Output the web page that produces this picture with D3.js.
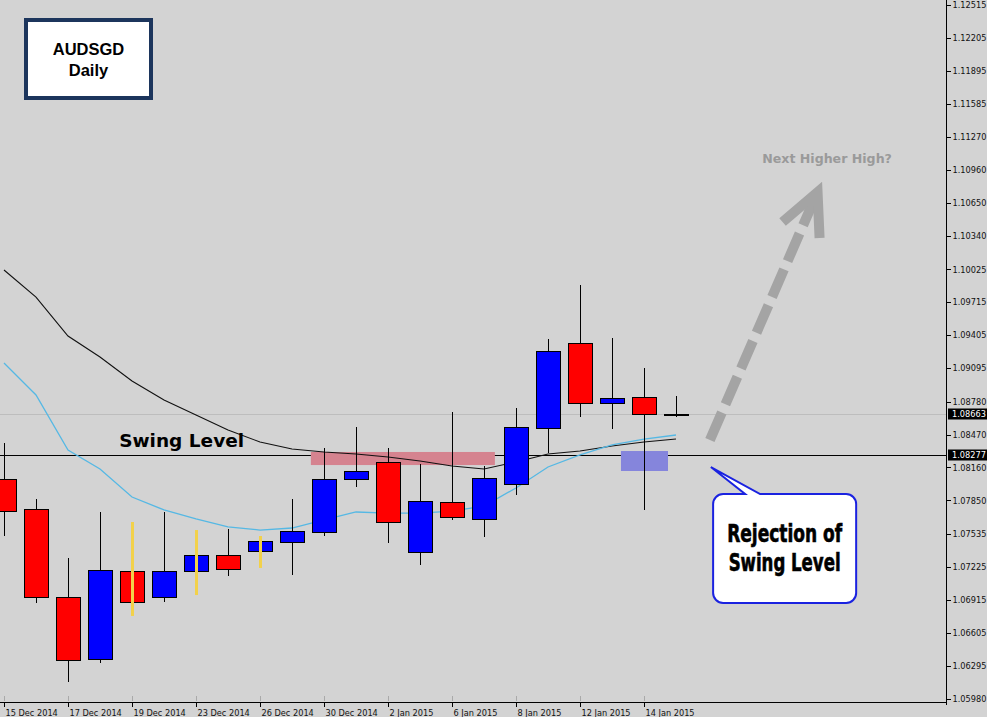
<!DOCTYPE html>
<html><head><meta charset="utf-8">
<script src="https://cdn.jsdelivr.net/npm/d3@7/dist/d3.min.js"></script>
<style>html,body{margin:0;padding:0;background:#d3d3d3;overflow:hidden}svg{display:block}</style>
</head><body><svg id="c" width="987" height="717"></svg>
<script>
// ---------------- DATA ----------------
const dates = ["15 Dec 2014","16 Dec 2014","17 Dec 2014","18 Dec 2014","19 Dec 2014","22 Dec 2014","23 Dec 2014","24 Dec 2014","26 Dec 2014","29 Dec 2014","30 Dec 2014","31 Dec 2014","2 Jan 2015","5 Jan 2015","6 Jan 2015","7 Jan 2015","8 Jan 2015","9 Jan 2015","12 Jan 2015","13 Jan 2015","14 Jan 2015","15 Jan 2015"];
const openP  = [1.08052,1.07769,1.06940,1.06357,1.07185,1.06940,1.07185,1.07336,1.07374,1.07458,1.07553,1.08052,1.08212,1.07364,1.07835,1.07675,1.08005,1.08532,1.09332,1.08767,1.08824,1.08663];
const highP  = [1.08391,1.07863,1.07308,1.07741,1.07647,1.07741,1.07571,1.07581,1.07515,1.07863,1.08343,1.08541,1.08343,1.08193,1.08682,1.08174,1.08720,1.09370,1.09878,1.09379,1.09097,1.08833];
const lowP   = [1.07515,1.06884,1.06140,1.06319,1.06762,1.06893,1.06959,1.07138,1.07214,1.07148,1.07515,1.07976,1.07449,1.07242,1.07666,1.07505,1.07901,1.08296,1.08635,1.08522,1.07760,1.08635];
const closeP = [1.07750,1.06940,1.06347,1.07195,1.06893,1.07185,1.07336,1.07204,1.07468,1.07562,1.08052,1.08127,1.07647,1.07844,1.07694,1.08061,1.08541,1.09257,1.08767,1.08814,1.08664,1.08663];
const maSlow = [1.10020,1.09765,1.09398,1.09200,1.08974,1.08795,1.08654,1.08513,1.08400,1.08334,1.08306,1.08287,1.08259,1.08221,1.08174,1.08146,1.08212,1.08287,1.08315,1.08362,1.08400,1.08428];
const maFast = [1.09144,1.08843,1.08325,1.08146,1.07882,1.07760,1.07675,1.07600,1.07571,1.07590,1.07666,1.07741,1.07731,1.07731,1.07750,1.07797,1.07967,1.08165,1.08278,1.08372,1.08428,1.08466];
const insideBars = ["19 Dec 2014","23 Dec 2014","26 Dec 2014"];
const xTickLabels = ["15 Dec 2014","17 Dec 2014","19 Dec 2014","23 Dec 2014","26 Dec 2014","30 Dec 2014","2 Jan 2015","6 Jan 2015","8 Jan 2015","12 Jan 2015","14 Jan 2015"];
const yTickValues = [1.12515,1.12205,1.11895,1.11585,1.11270,1.10960,1.10650,1.10340,1.10025,1.09715,1.09405,1.09095,1.08780,1.08470,1.08160,1.07850,1.07535,1.07225,1.06915,1.06605,1.06295,1.05980];
const swingLevel = 1.08277;
const lastPrice = 1.08663;
const markedPrices = [lastPrice, swingLevel];
const title = ["AUDSGD","Daily"];
// zones in data units [startIndex, endIndex, priceTop, priceBottom]
const resistanceZone = [9.59, 15.34, 1.08306, 1.08183];
const rejectionZone = [19.28, 20.75, 1.08315, 1.08127];

// ---------------- SCALES ----------------
const W = 987, H = 717, axisX = 946, axisY = 702;
const svg = d3.select("#c");
svg.append("rect").attr("width",W).attr("height",H).attr("fill","#d3d3d3");

const x = d3.scaleLinear().domain([0, dates.length-1]).range([4, 676]);
const y = d3.scaleLinear().domain([1.05980, 1.12515]).range([699, 5]);
const xi = d => dates.indexOf(d);

const plot = svg.append("g");
plot.append("clipPath").attr("id","clip").append("rect").attr("x",0).attr("y",0).attr("width",axisX).attr("height",axisY);
const g = plot.append("g").attr("clip-path","url(#clip)");

// last price line (light gray)
g.append("line").attr("x1",0).attr("x2",axisX)
  .attr("y1",Math.round(y(lastPrice))+0.5).attr("y2",Math.round(y(lastPrice))+0.5)
  .attr("stroke","#bdbdbd").attr("stroke-width",1);
// swing level line
g.append("line").attr("x1",0).attr("x2",axisX)
  .attr("y1",Math.round(y(swingLevel))+0.5).attr("y2",Math.round(y(swingLevel))+0.5)
  .attr("stroke","#000").attr("stroke-width",1);

// zones
function zone(z, fill){
  g.append("rect").attr("x",x(z[0])).attr("width",x(z[1])-x(z[0]))
   .attr("y",y(z[2])).attr("height",y(z[3])-y(z[2])).attr("fill",fill);
}
zone(resistanceZone, "#d5838f");
zone(rejectionZone, "#8585dc");

// moving averages
const line = d3.line().x((d,i)=>x(i)).y(d=>y(d));
g.append("path").datum(maSlow).attr("d",line).attr("fill","none").attr("stroke","#111").attr("stroke-width",1.1);
g.append("path").datum(maFast).attr("d",line).attr("fill","none").attr("stroke","#55b8e4").attr("stroke-width",1.3);

// candles
const candles = dates.map((d,i)=>({d,i,o:openP[i],h:highP[i],l:lowP[i],c:closeP[i],inside:insideBars.includes(d)}));
const cx = d => Math.round(x(d.i))+0.5;
g.selectAll(".wick").data(candles.filter(d=>!d.inside)).enter().append("line")
  .attr("x1",cx).attr("x2",cx).attr("y1",d=>y(d.h)).attr("y2",d=>y(d.l))
  .attr("stroke","#000").attr("stroke-width",1).attr("shape-rendering","crispEdges");
g.selectAll(".body").data(candles).enter().append("rect")
  .attr("x",d=>Math.round(x(d.i))-11.5).attr("width",24)
  .attr("y",d=>Math.round(y(Math.max(d.o,d.c)))+0.5)
  .attr("height",d=>Math.max(1,Math.round(Math.abs(y(d.o)-y(d.c)))))
  .attr("fill",d=>d.c>d.o?"#0000ff":(d.c<d.o?"#ff0000":"#000"))
  .attr("stroke","#000").attr("stroke-width",1).attr("shape-rendering","crispEdges");
g.selectAll(".iwick").data(candles.filter(d=>d.inside)).enter().append("line")
  .attr("x1",d=>x(d.i)+0.5).attr("x2",d=>x(d.i)+0.5).attr("y1",d=>y(d.h)).attr("y2",d=>y(d.l))
  .attr("stroke","#f2d14a").attr("stroke-width",3);

// ---------------- AXES ----------------
const yAxis = d3.axisRight(y).tickValues(yTickValues).tickFormat(d3.format(".5f")).tickSize(4).tickSizeOuter(0);
const ya = svg.append("g").attr("transform",`translate(${axisX+0.5},0)`).call(yAxis);
ya.select(".domain").remove();
ya.selectAll("line").attr("stroke","#000").attr("shape-rendering","crispEdges");
ya.selectAll("text").attr("x",6).attr("fill","#111").style("font-family","'DejaVu Sans',sans-serif").style("font-size","8.2px");
svg.append("line").attr("x1",axisX+0.5).attr("x2",axisX+0.5).attr("y1",0).attr("y2",axisY+3)
  .attr("stroke","#000").attr("stroke-width",1).attr("shape-rendering","crispEdges");

// highlighted price labels
const hl = svg.append("g");
markedPrices.forEach(p=>{
  const yy = Math.round(y(p));
  hl.append("rect").attr("x",axisX+2).attr("y",yy-5.5).attr("width",W-axisX-2).attr("height",11).attr("fill","#000");
  hl.append("text").attr("x",axisX+6).attr("y",yy).attr("dy","0.35em").attr("fill","#fff")
    .style("font-family","'DejaVu Sans',sans-serif").style("font-size","8.2px").text(d3.format(".5f")(p));
});

const xAxis = d3.axisBottom(x).tickValues(xTickLabels.map(xi)).tickFormat(i=>dates[i]).tickSize(4).tickSizeOuter(0);
const xa = svg.append("g").attr("transform",`translate(0,${axisY+0.5})`).call(xAxis);
xa.select(".domain").remove();
xa.selectAll(".tick").attr("transform",d=>`translate(${Math.round(x(d))+0.5},0)`);
xa.selectAll("line").attr("stroke","#000").attr("shape-rendering","crispEdges");
xa.selectAll("text").attr("y",8).attr("x",1).attr("dy","0.71em").attr("text-anchor","start").attr("fill","#111")
  .style("font-family","'DejaVu Sans',sans-serif").style("font-size","8.2px");
svg.append("line").attr("x1",0).attr("x2",axisX+1).attr("y1",axisY+0.5).attr("y2",axisY+0.5)
  .attr("stroke","#000").attr("stroke-width",1).attr("shape-rendering","crispEdges");
// faint grid ticks above axis
svg.selectAll(".gt").data(xTickLabels.map(xi)).enter().append("line")
  .attr("x1",d=>Math.round(x(d))+0.5).attr("x2",d=>Math.round(x(d))+0.5).attr("y1",696).attr("y2",701)
  .attr("stroke","#a9a9a9").attr("shape-rendering","crispEdges");

// ---------------- ANNOTATIONS ----------------
// title box
const tb = svg.append("g");
tb.append("rect").attr("x",26).attr("y",20).attr("width",125).attr("height",78)
  .attr("fill","#fff").attr("stroke","#1c355c").attr("stroke-width",4);
tb.selectAll("text").data(title).enter().append("text")
  .attr("x",88.5).attr("y",(d,i)=>55+i*21).attr("text-anchor","middle")
  .style("font-family","'Liberation Sans',Arial,sans-serif").style("font-weight","bold").style("font-size","16.5px")
  .attr("fill","#000").text(d=>d);

// Swing Level text
svg.append("text").attr("x",x(3.6)).attr("y",y(swingLevel)-8)
  .style("font-family","'DejaVu Sans',sans-serif").style("font-weight","bold").style("font-size","18.5px")
  .attr("fill","#000").text("Swing Level");

// dashed arrow
const aS = [x(22.06), y(1.08419)], aT = [x(25.56), y(1.10848)];
const len = Math.hypot(aT[0]-aS[0], aT[1]-aS[1]);
const u = [(aT[0]-aS[0])/len, (aT[1]-aS[1])/len];
const apex = [aT[0]-u[0]*11, aT[1]-u[1]*11];
const back = [-u[0],-u[1]];
const rot = (v,a)=>[v[0]*Math.cos(a)-v[1]*Math.sin(a), v[0]*Math.sin(a)+v[1]*Math.cos(a)];
const armL = rot(back, 26*Math.PI/180), armR = rot(back, -26*Math.PI/180);
const arrowCol = "#a4a4a4";
svg.append("line").attr("x1",aS[0]).attr("y1",aS[1]).attr("x2",apex[0]+back[0]*6).attr("y2",apex[1]+back[1]*6)
  .attr("stroke",arrowCol).attr("stroke-width",10).attr("stroke-dasharray","30,9");
svg.append("polyline")
  .attr("points",[[apex[0]+armL[0]*46, apex[1]+armL[1]*46], apex, [apex[0]+armR[0]*46, apex[1]+armR[1]*46]].map(p=>p.join(",")).join(" "))
  .attr("fill","none").attr("stroke",arrowCol).attr("stroke-width",10).attr("stroke-linejoin","miter");
svg.append("text").attr("x",x(25.72)).attr("y",y(1.11027)).attr("text-anchor","middle")
  .style("font-family","'DejaVu Sans',sans-serif").style("font-weight","bold").style("font-size","12.6px")
  .attr("fill","#9a9a9a").text("Next Higher High?");

// callout
const bx0 = x(22.16), bx1 = x(26.63), by0 = y(1.07910), by1 = y(1.06884), r = 10;
const tip = [x(22.09), y(1.08164)];
const p = d3.path();
p.moveTo(bx0+r, by0);
p.lineTo(bx0+32, by0); p.lineTo(tip[0], tip[1]); p.lineTo(bx0+47, by0);
p.lineTo(bx1-r, by0); p.arcTo(bx1, by0, bx1, by0+r, r);
p.lineTo(bx1, by1-r); p.arcTo(bx1, by1, bx1-r, by1, r);
p.lineTo(bx0+r, by1); p.arcTo(bx0, by1, bx0, by1-r, r);
p.lineTo(bx0, by0+r); p.arcTo(bx0, by0, bx0+r, by0, r);
p.closePath();
svg.append("path").attr("d",p.toString()).attr("fill","#fff").attr("stroke","#1a22e0").attr("stroke-width",2);
const cl = ["Rejection of","Swing Level"], clw = [115,112];
svg.selectAll(".cl").data(cl).enter().append("text")
  .attr("x",(bx0+bx1)/2).attr("y",(d,i)=>by0+48+i*29).attr("text-anchor","middle")
  .attr("textLength",(d,i)=>clw[i]).attr("lengthAdjust","spacingAndGlyphs")
  .style("font-family","'Liberation Sans Narrow','DejaVu Sans Condensed',sans-serif").style("font-weight","bold").style("font-size","24px")
  .attr("fill","#000").attr("stroke","#000").attr("stroke-width",0.6).text(d=>d);
</script></body></html>
